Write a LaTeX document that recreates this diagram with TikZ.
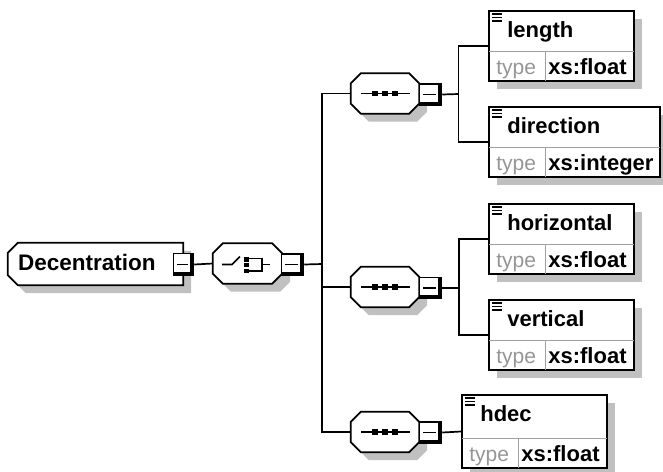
\documentclass[tikz,border=0pt]{standalone}
\usepackage{fontspec}
\setmainfont{Liberation Sans}
\usetikzlibrary{shadows,calc}
\definecolor{shadowgray}{RGB}{192,192,192}
\definecolor{divgray}{RGB}{160,160,160}
\definecolor{typegray}{RGB}{150,150,150}
\tikzset{
  shd/.style={drop shadow={shadow xshift=8pt, shadow yshift=-8pt, fill=shadowgray, opacity=1}},
  ln/.style={line width=1.7pt, draw=black},
  elbox/.style={rectangle, draw, line width=1.7pt, fill=white, inner sep=0pt, shd},
  compo/.style={rectangle, draw=none, inner sep=0pt, minimum width=68pt, minimum height=40pt},
  minbox/.style={rectangle, draw, line width=1.5pt, fill=white, inner sep=0pt,
    minimum width=21pt, minimum height=21pt,
    path picture={
      \draw[black, line width=1.5pt] ([xshift=3.5pt]path picture bounding box.west) -- ([xshift=-6pt]path picture bounding box.east);
      \fill[black] ([xshift=-3.5pt]path picture bounding box.north east) rectangle (path picture bounding box.south east);
      \fill[black] ([yshift=3.5pt]path picture bounding box.south west) rectangle (path picture bounding box.south east);
    }},
  lbl/.style={font=\fontsize{22}{26}\selectfont\bfseries, anchor=base west, inner sep=0pt},
  typelbl/.style={font=\fontsize{21}{25}\selectfont, text=typegray, anchor=base, inner sep=0pt},
  vallbl/.style={font=\fontsize{22}{26}\selectfont\bfseries, anchor=base west, inner sep=0pt},
}
\newcommand\octa[1]{%
  \path[ln, fill=white, shd] ([xshift=10pt]#1.north west) -- ([xshift=-10pt]#1.north east)
    -- ([yshift=-10pt]#1.north east) -- ([yshift=10pt]#1.south east)
    -- ([xshift=-10pt]#1.south east) -- ([xshift=10pt]#1.south west)
    -- ([yshift=10pt]#1.south west) -- ([yshift=-10pt]#1.north west) -- cycle;}
\newcommand\seqsym[1]{%
  \draw[ln] ([xshift=-24pt]#1.center) -- ([xshift=25pt]#1.center);
  \foreach \dx in {-12.75,-2.75,7.25}
    \fill[black] ([xshift=\dx pt, yshift=2.75pt]#1.center) rectangle ++(5.5pt,-5.5pt);}
\newcommand\elem[6]{%
  \node[elbox, minimum width=#3pt, minimum height=#4pt] (#1) at (#2) {};
  \draw[divgray, line width=1.2pt] ([xshift=0.9pt,yshift=30pt]#1.south west) -- ([xshift=-0.9pt,yshift=30pt]#1.south east);
  \draw[divgray, line width=1.2pt] ([xshift=57pt,yshift=30pt]#1.south west) -- ([xshift=57pt,yshift=0.9pt]#1.south west);
  \foreach \k/\w in {4/10,7.3/10,10.6/10}
    \draw[line width=1.5pt] ([xshift=4pt,yshift=-\k pt]#1.north west) -- ++(\w pt,0pt);
  \node[lbl] (#1-l) at ([xshift=19pt,yshift=-27pt]#1.north west) {#5};
  \node[typelbl] (#1-t) at ([xshift=28pt,yshift=7pt]#1.south west) {type};
  \node[vallbl] (#1-v) at ([xshift=60pt,yshift=7pt]#1.south west) {#6};}
\begin{document}
\begin{tikzpicture}[x=1pt, y=-1pt]
\useasboundingbox (0,0) rectangle (663,471);
% bus coordinates
\coordinate (bus1) at (322,264);
\coordinate (bus2) at (458.5,94);
\coordinate (bus3) at (459,288);

% Decentration
\node[rectangle, draw=none, inner sep=0pt, minimum width=175pt, minimum height=42pt] (dec) at (95.5,264) {};
\path[ln, fill=white, shd] ([xshift=10pt]dec.north west) -- (dec.north east) -- (dec.south east)
  -- ([xshift=10pt]dec.south west) -- ([yshift=10pt]dec.south west) -- ([yshift=-10pt]dec.north west) -- cycle;
\node[lbl, font=\fontsize{22.5}{26}\selectfont\bfseries] (decl) at (18,270.5) {Decentration};

% choice compositor
\node[compo, minimum width=69pt] (ch) at (247.5,263.5) {};
\octa{ch}
\draw[ln] (222,264.5) -- (232,264.5) -- (240,256.5);
\fill (244,257.3) rectangle ++(5,4.4);
\fill (244,263) rectangle ++(5,4.4);
\fill (244,268.7) rectangle ++(5,4.4);
\draw[ln] (249,258.5) -- (262,258.5) -- (262,271) -- (249,271);
\draw[ln] (262,264.5) -- (270,264.5);

% sequence compositors
\node[compo] (s1) at (385,93.5) {};
\octa{s1}
\seqsym{s1}
\node[compo] (s2) at (385,287) {};
\octa{s2}
\seqsym{s2}
\node[compo] (s3) at (385,432) {};
\octa{s3}
\seqsym{s3}

% elements
\elem{length}{561.5,46}{145}{70}{length}{xs:float}
\elem{direction}{574.5,142}{171}{70}{direction}{xs:integer}
\elem{horizontal}{561.5,239}{145}{70}{horizontal}{xs:float}
\elem{vertical}{561.5,335}{145}{70}{vertical}{xs:float}
\elem{hdec}{534.5,431.5}{145}{73}{hdec}{xs:float}

% minus boxes
\node[minbox, minimum width=20pt, minimum height=22pt] (decm) at (183.5,264.5) {};
\node[minbox, minimum width=22pt] (chm) at (292.5,264.5) {};
\node[minbox, minimum width=22pt] (s1m) at (430.5,94.5) {};
\node[minbox, minimum width=22pt] (s2m) at (430.5,288) {};
\node[minbox, minimum width=22pt] (s3m) at (430.5,432.5) {};

% connectors
\draw[ln] (decm.east) -- (ch.west);
\draw[ln] (chm.east) -- (bus1);
\draw[ln] (s1.west) -| (bus1) |- (s3.west);
\draw[ln] (bus1) |- (s2.west);
\draw[ln] (s1m.east) -- (bus2);
\draw[ln] (length.west) -| (bus2) |- (direction.west);
\draw[ln] (s2m.east) -- (bus3);
\draw[ln] (horizontal.west) -| (bus3) |- (vertical.west);
\draw[ln] (s3m.east) -- (hdec.west);
\end{tikzpicture}
\end{document}
